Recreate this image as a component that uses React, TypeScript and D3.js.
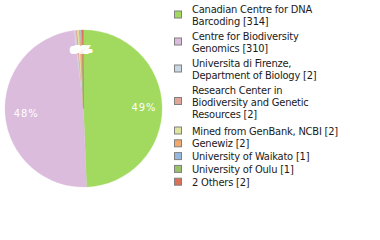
import React from "react";
import * as d3 from "d3";

const labels: string[][] = [
  ["Canadian Centre for DNA", "Barcoding [314]"],
  ["Centre for Biodiversity", "Genomics [310]"],
  ["Universita di Firenze,", "Department of Biology [2]"],
  ["Research Center in", "Biodiversity and Genetic", "Resources [2]"],
  ["Mined from GenBank, NCBI [2]"],
  ["Genewiz [2]"],
  ["University of Waikato [1]"],
  ["University of Oulu [1]"],
  ["2 Others [2]"],
];
const values: number[] = [314, 310, 2, 2, 2, 2, 1, 1, 2];
const colors: string[] = [
  "#a1da5e", "#dcbcdd", "#c9d8e3", "#e0a69a", "#dfe5a0",
  "#f0a96e", "#97b9df", "#99c16a", "#db7157",
];

const W = 380, H = 240;
const cx = 83.5, cy = 108.5, R = 78.5;
const FONT = "'DejaVu Sans Condensed', 'DejaVu Sans', sans-serif";

export default function App() {
  const total = d3.sum(values);
  const pie = d3.pie<number>().sort(null).value((d) => d);
  const arcs = pie(values);
  const arcGen = d3.arc<d3.PieArcDatum<number>>().innerRadius(0).outerRadius(R);
  const labelArc = d3.arc<d3.PieArcDatum<number>>().innerRadius(59).outerRadius(59);

  // legend layout
  const items: { y: number; lines: string[]; color: string }[] = [];
  let y = 13;
  labels.forEach((lines, i) => {
    items.push({ y, lines, color: colors[i] });
    y += lines.length * 12 + (lines.length > 1 ? 3 + (lines.length - 2) * 1.5 : 0.8);
  });

  return (
    <svg
      width={W}
      height={H}
      style={{ position: "absolute", left: 0, top: 0, background: "#fff" }}
      fontFamily={FONT}
    >
      <g transform={`translate(${cx},${cy})`}>
        {arcs.map((a, i) => (
          <path key={i} d={arcGen(a) || ""} fill={colors[i]} stroke={colors[i]} strokeWidth={0.3} />
        ))}
        {arcs.map((a, i) => {
          const [x, yy] = labelArc.centroid(a);
          const pct = Math.floor((values[i] / total) * 100);
          return (
            <text
              key={"l" + i}
              x={x + 1.5}
              y={yy}
              dy="0.35em"
              textAnchor="middle"
              fill="#fff"
              fontSize={11}
              letterSpacing={1}
              fontWeight={i > 1 ? "bold" : "normal"}
            >
              {pct + "%"}
            </text>
          );
        })}
      </g>
      <g>
        {items.map((it, i) => {
          const swC = it.y - 4 + (it.lines.length - 1) * 5.5;
          return (
            <g key={i}>
              <rect
                x={174.5}
                y={swC - 3.5}
                width={7}
                height={7}
                fill={it.color}
                stroke="#808080"
                strokeWidth={1}
              />
              <text x={192} y={it.y} fontSize={11} fill="#1a1a1a" letterSpacing={-0.2}>
                {it.lines.map((l, j) => (
                  <tspan key={j} x={192} y={it.y + j * 12}>
                    {l}
                  </tspan>
                ))}
              </text>
            </g>
          );
        })}
      </g>
    </svg>
  );
}
